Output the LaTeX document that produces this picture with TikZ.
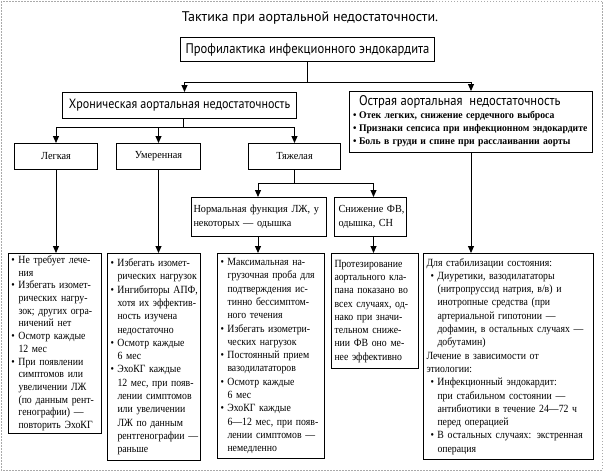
\documentclass[tikz,border=0pt]{standalone}
\usepackage{fontspec}
\setmainfont{Liberation Serif}[FakeStretch=0.95]
\newfontfamily\bodyserif{Liberation Serif}[FakeStretch=0.89]
\newfontfamily\hdsans{PT Sans}
\newfontfamily\hdnarrow{PT Sans}[FakeStretch=0.9]
\usetikzlibrary{arrows.meta}

\tikzset{
  box/.style={draw, line width=1pt, anchor=north west, inner sep=0pt},
  head/.style={box, font=\hdnarrow\fontsize{14}{16}\selectfont},
  small/.style={box, font=\fontsize{10.8}{14}\selectfont},
  txtbox/.style={box, align=left, inner xsep=3pt, font=\bodyserif\fontsize{11}{13.3}\selectfont},
  arr/.style={-{Triangle[length=7pt,width=6pt]}, line width=1pt},
  ln/.style={line width=1pt},
}
\newcommand{\itm}{\makebox[7pt][l]{\textbullet}}
\newcommand{\cnt}{\hspace*{7pt}}
\newcommand{\boxlines}[1]{\begin{tabular}{@{}l@{}}#1\end{tabular}}

\begin{document}
\begin{tikzpicture}[x=1pt,y=1pt,yscale=-1,xscale=1]
\useasboundingbox (0,0) rectangle (605,472);

%Frame
\draw [color={rgb, 255:red, 170; green, 170; blue, 170}, dash pattern={on 1.5pt off 1.5pt}] (1,1) rectangle (602,470);

% Text Node
\node [font=\hdsans\fontsize{14}{16}\selectfont] (title) at (310,18) {Тактика при аортальной недостаточности.};

%Top boxes
\node [head, minimum width=254pt, minimum height=24pt] (prof) at (180,37) {Профилактика инфекционного эндокардита};
\node [head, minimum width=234pt, minimum height=26pt, font=\hdnarrow\fontsize{13.4}{16}\selectfont] (chron) at (62,92) {Хроническая аортальная недостаточность};
\node [box, text width=236pt, minimum height=61pt, align=left, inner xsep=3.5pt, font=\fontsize{10.2}{13}\selectfont] (acute) at (349,91) {\boxlines{{\hdnarrow\fontsize{14}{13}\selectfont\hspace*{6pt}Острая аортальная\ \ недостаточность}\\
\textbf{\makebox[6pt][l]{\textbullet}Отек легких, снижение сердечного выброса}\\
\textbf{\makebox[6pt][l]{\textbullet}Признаки сепсиса при инфекционном эндокардите}\\
\textbf{\makebox[6pt][l]{\textbullet}Боль в груди и спине при расслаивании аорты}}};

%Severity boxes
\node [small, minimum width=83pt, minimum height=26pt] (mild) at (14,143) {Легкая};
\node [small, minimum width=84pt, minimum height=26pt] (moder) at (116,143) {Умеренная};
\node [small, minimum width=92pt, minimum height=26pt] (severe) at (248,143) {Тяжелая};

\node [small, text width=131pt, inner xsep=2pt, minimum height=39pt, align=left] (normlv) at (191,197) {\boxlines{Нормальная функция ЛЖ, у\\некоторых — одышка}};
\node [small, text width=64pt, inner xsep=4pt, minimum height=39pt, align=left] (lowef) at (334,197) {\boxlines{Снижение ФВ,\\одышка, СН}};

%Bottom boxes
\node [txtbox, text width=87pt, minimum height=180pt, font=\bodyserif\fontsize{11}{12.7}\selectfont] (tmild) at (8,253) {\boxlines{\itm Не требует лече-\\
\cnt ния\\
\itm Избегать изомет-\\
\cnt рических нагру-\\
\cnt зок; других огра-\\
\cnt ничений нет\\
\itm Осмотр каждые\\
\cnt 12 мес\\
\itm При появлении\\
\cnt симптомов или\\
\cnt увеличении ЛЖ\\
\cnt (по данным рент-\\
\cnt генографии) —\\
\cnt повторить ЭхоКГ}};
\node [txtbox, text width=87pt, minimum height=207pt] (tmoder) at (107,253) {\boxlines{\itm Избегать изомет-\\
\cnt рических нагрузок\\
\itm Ингибиторы АПФ,\\
\cnt хотя их эффектив-\\
\cnt ность изучена\\
\cnt недостаточно\\
\itm Осмотр каждые\\
\cnt 6 мес\\
\itm ЭхоКГ каждые\\
\cnt 12 мес, при появ-\\
\cnt лении симптомов\\
\cnt или увеличении\\
\cnt ЛЖ по данным\\
\cnt рентгенографии —\\
\cnt раньше}};
\node [txtbox, text width=101pt, minimum height=205pt] (tsevere) at (217,253) {\boxlines{\itm Максимальная на-\\
\cnt грузочная проба для\\
\cnt подтверждения ис-\\
\cnt тинно бессимптом-\\
\cnt ного течения\\
\itm Избегать изометри-\\
\cnt ческих нагрузок\\
\itm Постоянный прием\\
\cnt вазодилататоров\\
\itm Осмотр каждые\\
\cnt 6 мес\\
\itm ЭхоКГ каждые\\
\cnt 6—12 мес, при появ-\\
\cnt лении симптомов —\\
\cnt немедленно}};
\node [txtbox, text width=81pt, minimum height=115pt] (tlowef) at (331,253) {\boxlines{Протезирование\\
аортального кла-\\
пана показано во\\
всех случаях, од-\\
нако при значи-\\
тельном сниже-\\
нии ФВ оно ме-\\
нее эффективно}};
\node [txtbox, text width=164pt, minimum height=206pt] (tacute) at (423,253) {\boxlines{Для стабилизации состояния:\\
\hspace*{4pt}\itm Диуретики, вазодилататоры\\
\hspace*{4pt}\cnt (нитропруссид натрия, в/в) и\\
\hspace*{4pt}\cnt инотропные средства (при\\
\hspace*{4pt}\cnt артериальной гипотонии —\\
\hspace*{4pt}\cnt дофамин, в остальных случаях —\\
\hspace*{4pt}\cnt добутамин)\\
Лечение в зависимости от\\
этиологии:\\
\hspace*{4pt}\itm Инфекционный эндокардит:\\
\hspace*{4pt}\cnt при стабильном состоянии —\\
\hspace*{4pt}\cnt антибиотики в течение 24—72 ч\\
\hspace*{4pt}\cnt перед операцией\\
\hspace*{4pt}\itm В остальных случаях: экстренная\\
\hspace*{4pt}\cnt операция}};

%Connectors
\draw [ln] (prof.south) -- (prof.south |- 0,82) coordinate (pj);
\draw [arr] (pj) -| ([xshift=5pt]chron.north);
\draw [arr] (pj) -| (acute.north);

\draw [ln] ([xshift=4pt]chron.south) -- ++(0,8) coordinate (cj);
\draw [arr] (cj) -| (mild.north);
\draw [arr] (cj) -| (moder.north);
\draw [arr] (cj) -| (severe.north);

\draw [ln] (severe.south) -- ++(0,13) coordinate (sj);
\draw [arr] (sj) -| ([xshift=-1pt]normlv.north);
\draw [arr] (sj) -| ([xshift=3pt]lowef.north);

\draw [arr] (mild.south) -- (mild.south |- tmild.north);
\draw [arr] (moder.south) -- (moder.south |- tmoder.north);
\draw [arr] ([xshift=-1pt]normlv.south) -- ([xshift=-1pt]normlv.south |- tsevere.north);
\draw [arr] ([xshift=3pt]lowef.south) -- ([xshift=3pt]lowef.south |- tlowef.north);
\draw [arr] (acute.south) -- (acute.south |- tacute.north);

\end{tikzpicture}
\end{document}
